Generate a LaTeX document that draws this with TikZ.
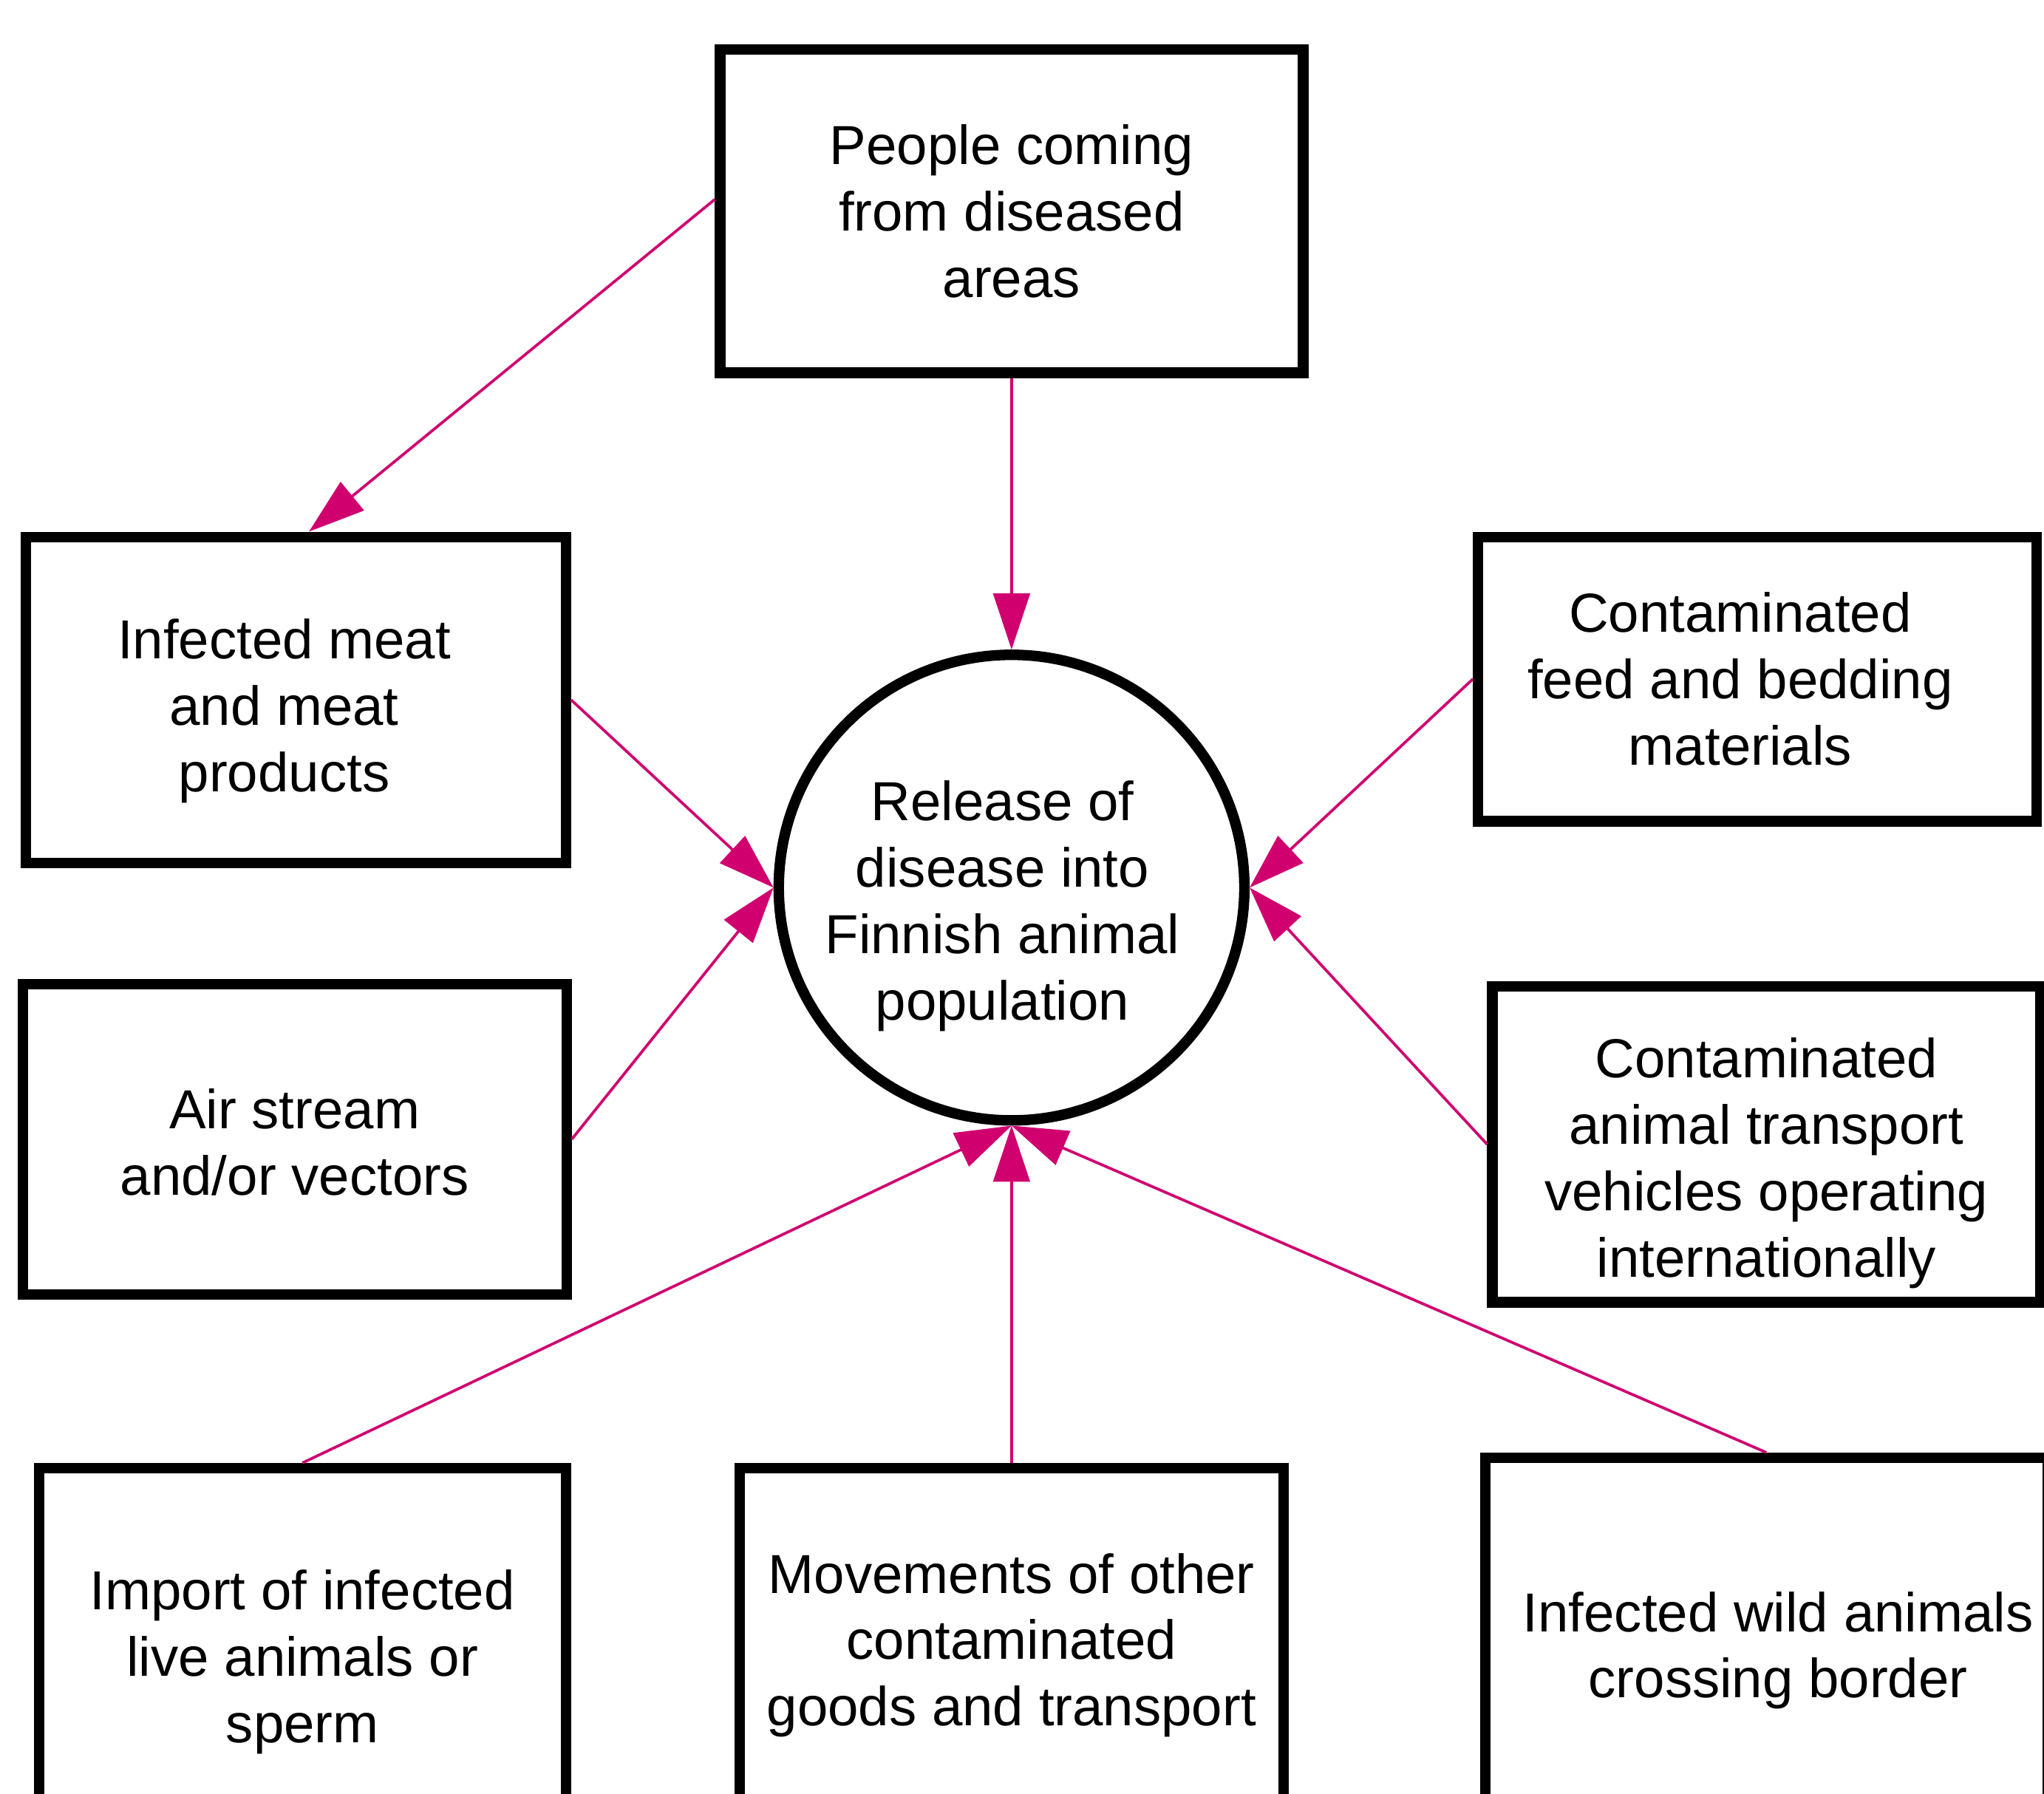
\documentclass[tikz,border=0pt]{standalone}
\usepackage{fontspec}
\setmainfont{Liberation Sans}
\usetikzlibrary{arrows.meta}
\definecolor{linkpink}{HTML}{D0006F}
% text block, moved sideways (twice the shift) and up/down
\newcommand{\nudged}[3]{\hspace*{#1}\raisebox{\dimexpr#2-0.05cm\relax}[\height][\depth]{\begin{tabular}{@{}c@{}}#3\end{tabular}}}

\begin{document}
\begin{tikzpicture}[x=0.01cm,y=-0.01cm,
    srcbox/.style={draw,line width=2.3pt,inner sep=0pt,
        font=\fontsize{12}{14.5}\selectfont},
    hub/.style={draw,circle,line width=2.3pt,inner sep=0pt,
        minimum size=3.57cm,font=\fontsize{12}{14.5}\selectfont},
    pinkarrow/.style={draw=linkpink,line width=0.6pt,
        -{Triangle[length=4.3mm,width=2.8mm,fill=linkpink]}}]
            \useasboundingbox (0,0) rectangle (1568,1376);
            \clip (0,0) rectangle (1568,1376);
            % the release node in the middle
            \node[hub] (release) at (776,681) {\nudged{-0.14cm}{-0.1cm}{Release of\\disease into\\Finnish animal\\population}};
            % sources
            \node[srcbox,minimum width=4.47cm,minimum height=2.48cm] (people) at (776,162) {\nudged{0cm}{0cm}{People coming\\from diseased\\areas}};
            \node[srcbox,minimum width=4.14cm,minimum height=2.5cm] (meat) at (227,537) {\nudged{-0.18cm}{-0.04cm}{Infected meat\\and meat\\products}};
            \node[srcbox,minimum width=4.17cm,minimum height=2.38cm] (air) at (226,874) {\nudged{0cm}{-0.02cm}{Air stream\\and/or vectors}};
            \node[srcbox,minimum width=4.28cm,minimum height=2.18cm] (feed) at (1348,521) {\nudged{-0.26cm}{0cm}{Contaminated\\feed and bedding\\materials}};
            \node[srcbox,minimum width=4.2cm,minimum height=2.42cm] (vehicles) at (1355,878) {\nudged{0cm}{-0.1cm}{Contaminated\\animal transport\\vehicles operating\\internationally}};
            \node[srcbox,minimum width=4.04cm,minimum height=2.89cm] (import) at (232,1271) {\nudged{0cm}{0cm}{Import of infected\\live animals or\\sperm}};
            \node[srcbox,minimum width=4.17cm,minimum height=2.63cm] (goods) at (776,1258) {\nudged{0cm}{0cm}{Movements of other\\contaminated\\goods and transport}};
            \node[srcbox,minimum width=4.31cm,minimum height=2.87cm] (wild) at (1355,1262) {\nudged{0.18cm}{0cm}{Infected wild animals\\crossing border}};
            % links
            \draw[pinkarrow] ([yshift=0.09cm]people.west) -- ([xshift=0.1cm]meat.north);
            \draw[pinkarrow] (people.south) -- (release.north);
            \draw[pinkarrow] (meat.east) -- (release.west);
            \draw[pinkarrow] (air.east) -- (release.west);
            \draw[pinkarrow] (feed.west) -- (release.east);
            \draw[pinkarrow] (vehicles.west) -- (release.east);
            \draw[pinkarrow] (import.north) -- (release.south);
            \draw[pinkarrow] (goods.north) -- (release.south);
            \draw[pinkarrow] (wild.north) -- (release.south);
        \end{tikzpicture}
\end{document}
